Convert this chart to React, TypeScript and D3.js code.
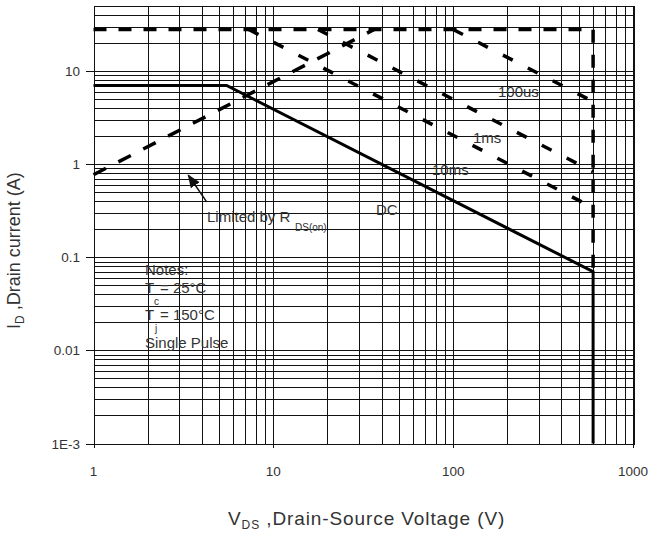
import React from "react";
import * as d3 from "d3";

const W = 649;
const H = 535;

// axis domains / ticks
const xDomain = [1, 1000];
const yDomain = [0.001, 50];
const xTickValues = [1, 10, 100, 1000];
const xTickLabels = ["1", "10", "100", "1000"];
const yTickValues = [0.001, 0.01, 0.1, 1, 10];
const yTickLabels = ["1E-3", "0.01", "0.1", "1", "10"];

// Safe operating area boundaries (V, A)
const pulseLimitV = [1, 600, 600];
const pulseLimitI = [28, 28, 0.07];
const rdsV = [1, 36.4];
const rdsI = [0.77, 28];
const us100V = [100, 600];
const us100I = [28, 4.7];
const ms1V = [17.7, 600];
const ms1I = [28, 0.83];
const ms10V = [7.3, 600];
const ms10I = [28, 0.34];
const dcV = [1, 5.5, 600, 600];
const dcI = [7, 7, 0.07, 0.001];

const zip = (a: number[], b: number[]) => a.map((v, i) => [v, b[i]] as [number, number]);

export default function App() {
  const x = d3.scaleLog().domain(xDomain).range([93.5, 633]);
  const y = d3.scaleLog().domain(yDomain).range([443.5, 6]);
  const line = d3
    .line<[number, number]>()
    .x((d) => x(d[0]))
    .y((d) => y(d[1]));

  const xGrid: number[] = [];
  for (const dec of [1, 10, 100]) for (let k = 1; k <= 9; k++) xGrid.push(dec * k);
  xGrid.push(1000);
  const yGrid: number[] = [];
  for (const dec of [0.001, 0.01, 0.1, 1, 10]) for (let k = 1; k <= 9; k++) {
    const v = dec * k;
    if (v <= 50) yGrid.push(v);
  }
  yGrid.push(50);

  const font = "'Liberation Sans', Arial, sans-serif";
  const txt = "#333";
  const crisp = (v: number) => Math.round(v) + 0.5;
  const x0 = x(1), x1 = x(1000), y0 = y(0.001), y1 = y(50);

  return (
    <svg
      width={W}
      height={H}
      style={{ position: "absolute", left: 0, top: 0, background: "#fff" }}
      fontFamily={font}
    >
      <defs>
        <marker id="arr" viewBox="0 0 10 10" refX="9" refY="5" markerWidth="9" markerHeight="9" orient="auto">
          <path d="M0,1 L10,5 L0,9 Z" fill="#111" />
        </marker>
      </defs>
      <rect x={0} y={0} width={W} height={H} fill="#fff" />
      {/* grid */}
      <g stroke="#111" strokeWidth={1} shapeRendering="crispEdges">
        {xGrid.map((v, i) => (
          <line key={"gx" + i} x1={crisp(x(v))} x2={crisp(x(v))} y1={y1} y2={y0} />
        ))}
        {yGrid.map((v, i) => (
          <line key={"gy" + i} x1={x0} x2={x1} y1={crisp(y(v))} y2={crisp(y(v))} />
        ))}
        <rect x={crisp(x0)} y={crisp(y1)} width={Math.round(x1 - x0)} height={Math.round(y0 - y1)} fill="none" />
        {/* major ticks */}
        {yTickValues.map((v, i) => (
          <line key={"ty" + i} x1={x0 - 8} x2={x0} y1={crisp(y(v))} y2={crisp(y(v))} />
        ))}
        {xTickValues.map((v, i) => (
          <line key={"tx" + i} x1={crisp(x(v))} x2={crisp(x(v))} y1={y0} y2={y0 + 4} />
        ))}
      </g>
      {/* tick labels */}
      <g fill={txt} fontSize={13.5}>
        {yTickValues.map((v, i) => (
          <text key={"ly" + i} x={80} y={y(v) + 5} textAnchor="end">
            {yTickLabels[i]}
          </text>
        ))}
        {xTickValues.map((v, i) => (
          <text key={"lx" + i} x={x(v)} y={476} textAnchor="middle">
            {xTickLabels[i]}
          </text>
        ))}
      </g>
      {/* curves */}
      <g fill="none" stroke="#000">
        <path d={line(zip(pulseLimitV, pulseLimitI)) || ""} strokeWidth={3.5} strokeDasharray="13,12" />
        <path d={line(zip(rdsV, rdsI)) || ""} strokeWidth={3.5} strokeDasharray="14,14" />
        <path d={line(zip(us100V, us100I)) || ""} strokeWidth={3.5} strokeDasharray="11,17" />
        <path d={line(zip(ms1V, ms1I)) || ""} strokeWidth={3.5} strokeDasharray="11,17" />
        <path d={line(zip(ms10V, ms10I)) || ""} strokeWidth={3.5} strokeDasharray="11,17" />
        <path d={line(zip(dcV, dcI)) || ""} strokeWidth={3} />
      </g>
      {/* arrow */}
      <line
        x1={x(4.26)}
        y1={y(0.394)}
        x2={x(3.37)}
        y2={y(0.76)}
        stroke="#111"
        strokeWidth={1.5}
        markerEnd="url(#arr)"
      />
      {/* annotations */}
      <g fill={txt} fontSize={15}>
        <text x={498} y={97}>100us</text>
        <text x={473} y={143}>1ms</text>
        <text x={432} y={175}>10ms</text>
        <text x={376} y={215}>DC</text>
        <text x={207} y={222}>Limited by R</text>
        <text x={295} y={231} fontSize={10}>DS(on)</text>
        <text x={145} y={275}>Notes:</text>
        <text x={145} y={293}>T</text>
        <text x={154} y={305} fontSize={10}>c</text>
        <text x={160} y={293}>= 25°C</text>
        <text x={145} y={320}>T</text>
        <text x={155} y={332} fontSize={10}>j</text>
        <text x={160} y={320}>= 150°C</text>
        <text x={145} y={348}>Single Pulse</text>
      </g>
      {/* axis titles */}
      <text x={228} y={525} fill={txt} fontSize={19} letterSpacing={0.9}>
        V<tspan fontSize={12} dy={4}>DS</tspan>
        <tspan dy={-4}> ,Drain-Source Voltage (V)</tspan>
      </text>
      <text transform="translate(20,329) rotate(-90)" fill={txt} fontSize={18}>
        I<tspan fontSize={12} dy={4}>D</tspan>
        <tspan dy={-4}> ,Drain current (A)</tspan>
      </text>
    </svg>
  );
}
